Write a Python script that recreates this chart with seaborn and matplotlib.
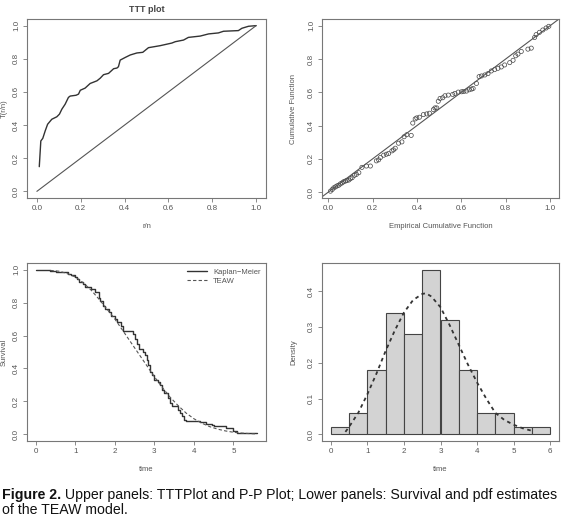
import numpy as np
import pandas as pd
import matplotlib
matplotlib.use("Agg")
import matplotlib.pyplot as plt
import seaborn as sns

# TTT plot (r/n, scaled TTT)
ttt_x = [0.011, 0.018, 0.027, 0.038, 0.049, 0.068, 0.091, 0.103, 0.114, 0.129, 0.144, 0.152,
         0.179, 0.19, 0.198, 0.22, 0.243, 0.274, 0.289, 0.304, 0.327, 0.35, 0.365, 0.372,
         0.38, 0.403, 0.426, 0.456, 0.483, 0.509, 0.562, 0.616, 0.631, 0.669, 0.691, 0.745,
         0.783, 0.828, 0.851, 0.919, 0.935, 0.965, 1.0]
ttt_y = [0.149, 0.304, 0.32, 0.365, 0.405, 0.435, 0.45, 0.466, 0.496, 0.526, 0.567, 0.575,
         0.58, 0.587, 0.61, 0.623, 0.651, 0.667, 0.683, 0.704, 0.712, 0.74, 0.744, 0.752,
         0.792, 0.808, 0.823, 0.835, 0.839, 0.867, 0.879, 0.895, 0.903, 0.913, 0.929, 0.937,
         0.95, 0.956, 0.966, 0.97, 0.984, 0.996, 1.0]
diag = [0.0, 1.0]

# P-P plot
pp_emp = [0.010, 0.018, 0.025, 0.033, 0.040, 0.048, 0.055, 0.063, 0.070, 0.078, 0.085, 0.093,
          0.100, 0.108, 0.118, 0.127, 0.138, 0.152, 0.172, 0.190, 0.217, 0.227, 0.235, 0.250,
          0.262, 0.272, 0.287, 0.294, 0.302, 0.317, 0.332, 0.342, 0.354, 0.374, 0.381, 0.392,
          0.399, 0.411, 0.429, 0.444, 0.456, 0.474, 0.481, 0.489, 0.496, 0.504, 0.516, 0.526,
          0.541, 0.561, 0.571, 0.586, 0.601, 0.611, 0.623, 0.635, 0.646, 0.653, 0.668, 0.680,
          0.691, 0.706, 0.720, 0.735, 0.750, 0.765, 0.780, 0.795, 0.818, 0.833, 0.845, 0.855,
          0.870, 0.900, 0.915, 0.930, 0.937, 0.952, 0.967, 0.982, 0.994]
pp_fit = [0.006, 0.016, 0.026, 0.032, 0.038, 0.042, 0.050, 0.056, 0.063, 0.067, 0.071, 0.073,
          0.081, 0.087, 0.101, 0.107, 0.117, 0.149, 0.157, 0.157, 0.188, 0.194, 0.208, 0.222,
          0.228, 0.232, 0.248, 0.254, 0.264, 0.294, 0.302, 0.333, 0.345, 0.341, 0.415, 0.440,
          0.446, 0.450, 0.466, 0.470, 0.474, 0.496, 0.506, 0.506, 0.546, 0.563, 0.567, 0.579,
          0.583, 0.587, 0.593, 0.601, 0.603, 0.605, 0.607, 0.615, 0.619, 0.623, 0.653, 0.694,
          0.698, 0.704, 0.712, 0.728, 0.736, 0.744, 0.752, 0.764, 0.778, 0.792, 0.819, 0.829,
          0.845, 0.859, 0.865, 0.929, 0.946, 0.960, 0.974, 0.986, 0.996]

# Kaplan-Meier survival
km_t = [0.0, 0.37, 0.5, 0.82, 0.9, 1.0, 1.05, 1.1, 1.2, 1.25, 1.4, 1.5, 1.6, 1.62, 1.7, 1.75,
        1.85, 1.9, 2.0, 2.05, 2.15, 2.2, 2.35, 2.45, 2.5, 2.55, 2.62, 2.7, 2.75, 2.8, 2.85,
        2.9, 2.95, 3.0, 3.1, 3.15, 3.2, 3.25, 3.35, 3.4, 3.45, 3.6, 3.65, 3.7, 3.75, 3.8, 4.15,
        4.3, 4.45, 4.5, 4.8, 5.0, 5.1, 5.6]
km_s = [1.0, 0.99, 0.985, 0.975, 0.965, 0.955, 0.94, 0.925, 0.91, 0.895, 0.88, 0.865, 0.83,
        0.81, 0.78, 0.76, 0.74, 0.72, 0.70, 0.68, 0.66, 0.63, 0.63, 0.61, 0.58, 0.55, 0.52,
        0.50, 0.48, 0.45, 0.42, 0.38, 0.36, 0.33, 0.32, 0.30, 0.27, 0.25, 0.22, 0.19, 0.17,
        0.15, 0.13, 0.11, 0.085, 0.08, 0.075, 0.065, 0.055, 0.05, 0.04, 0.02, 0.01, 0.01]
# TEAW fitted survival
teaw_t = [0.37, 0.6, 0.8, 1.0, 1.2, 1.4, 1.6, 1.8, 2.0, 2.2, 2.4, 2.6, 2.8, 3.0, 3.2, 3.4,
          3.6, 3.8, 4.0, 4.2, 4.4, 4.6, 4.8, 5.0, 5.2, 5.4, 5.6]
teaw_s = [0.995, 0.99, 0.975, 0.955, 0.92, 0.875, 0.82, 0.76, 0.70, 0.63, 0.56, 0.49, 0.42,
          0.35, 0.285, 0.225, 0.175, 0.13, 0.095, 0.068, 0.047, 0.032, 0.021, 0.013, 0.008,
          0.005, 0.003]

# histogram (density) and fitted pdf
bin_edges = [0, 0.5, 1, 1.5, 2, 2.5, 3, 3.5, 4, 4.5, 5, 5.5, 6]
dens = [0.02, 0.06, 0.18, 0.34, 0.28, 0.46, 0.32, 0.18, 0.06, 0.06, 0.02, 0.02]
pdf_t = [0.4, 0.5, 0.75, 1.0, 1.25, 1.5, 1.75, 2.0, 2.25, 2.5, 2.6, 2.75, 3.0, 3.25, 3.5,
         3.75, 4.0, 4.25, 4.5, 4.75, 5.0, 5.25, 5.5]
pdf_f = [0.007, 0.021, 0.06, 0.112, 0.17, 0.233, 0.29, 0.34, 0.375, 0.392, 0.394, 0.385,
         0.355, 0.305, 0.25, 0.195, 0.145, 0.1, 0.06, 0.04, 0.027, 0.017, 0.01]

sns.set_style("white")
plt.rcParams["font.family"] = ["Liberation Sans", "DejaVu Sans"]

W, H = 567, 516
fig = plt.figure(figsize=(W / 100, H / 100), dpi=100)

def box(x0, y0, x1, y1):
    return [x0 / W, 1 - y1 / H, (x1 - x0) / W, (y1 - y0) / H]

ax1 = fig.add_axes(box(27, 19, 266, 198))
ax2 = fig.add_axes(box(322, 19, 559, 198))
ax3 = fig.add_axes(box(27, 263, 266, 441))
ax4 = fig.add_axes(box(322, 263, 559, 441))

ink = "#333333"
lab = "#555555"

def rstyle(ax):
    for s in ax.spines.values():
        s.set_color("#777777")
        s.set_linewidth(0.8)
    ax.tick_params(axis="both", direction="out", length=3, width=0.6, color="#777777",
                   labelsize=5.8, labelcolor=lab, pad=2, bottom=True, left=True)
    for t in ax.get_yticklabels():
        t.set_rotation(90)
        t.set_va("center")
    ax.xaxis.label.set_size(5.5)
    ax.yaxis.label.set_size(5.5)
    ax.xaxis.label.set_color(lab)
    ax.yaxis.label.set_color(lab)

# TTT plot
sns.lineplot(x=ttt_x, y=ttt_y, ax=ax1, color=ink, lw=1.0, estimator=None, sort=False)
sns.lineplot(x=diag, y=diag, ax=ax1, color="#555555", lw=0.8, estimator=None)
ax1.set_xlim(-0.045, 1.045)
ax1.set_ylim(-0.04, 1.04)
ax1.set_xticks(np.arange(0, 1.01, 0.2))
ax1.set_yticks(np.arange(0, 1.01, 0.2))
ax1.set_xlabel("r/n", labelpad=8)
ax1.set_ylabel("T(r/n)", labelpad=4)
ax1.set_title("TTT plot", fontsize=6.5, fontweight="bold", color="#444444", pad=5)
rstyle(ax1)

# P-P plot
sns.lineplot(x=[-0.1, 1.1], y=[-0.1, 1.1], ax=ax2, color="#555555", lw=0.8, estimator=None)
sns.scatterplot(x=pp_emp, y=pp_fit, ax=ax2, marker="o", s=9, facecolor="none",
                edgecolor="#444444", linewidth=0.5)
ax2.set_xlim(-0.028, 1.04)
ax2.set_ylim(-0.035, 1.04)
ax2.set_xticks(np.arange(0, 1.01, 0.2))
ax2.set_yticks(np.arange(0, 1.01, 0.2))
ax2.set_xlabel("Empirical Cumulative Function", labelpad=8)
ax2.set_ylabel("Cumulative Function", labelpad=8)
rstyle(ax2)

# survival
sns.lineplot(x=km_t, y=km_s, ax=ax3, color=ink, lw=1.0, estimator=None,
             drawstyle="steps-post", label="Kaplan\u2212Meier")
sns.lineplot(x=teaw_t, y=teaw_s, ax=ax3, color="#555555", lw=0.8, estimator=None,
             linestyle=(0, (3, 2)), label="TEAW")
ax3.set_xlim(-0.224, 5.824)
ax3.set_ylim(-0.04, 1.04)
ax3.set_xticks(range(0, 6))
ax3.set_yticks(np.arange(0, 1.01, 0.2))
ax3.set_xlabel("time", labelpad=8)
ax3.set_ylabel("Survival", labelpad=4)
leg = ax3.legend(loc="upper right", frameon=False, fontsize=5.5, handlelength=2.6,
                 borderaxespad=0.3, labelspacing=0.2)
for t in leg.get_texts():
    t.set_color(lab)
rstyle(ax3)

# histogram + pdf
centers = [(bin_edges[i] + bin_edges[i + 1]) / 2 for i in range(len(dens))]
sns.histplot(x=centers, weights=dens, bins=bin_edges, stat="density", ax=ax4,
             color="#d3d3d3", edgecolor="#444444", linewidth=0.8, alpha=1)
sns.lineplot(x=pdf_t, y=pdf_f, ax=ax4, color="#333333", lw=1.3, estimator=None,
             linestyle=(0, (2, 2)))
ax4.set_xlim(-0.24, 6.24)
ax4.set_ylim(-0.0184, 0.4784)
ax4.set_xticks(range(0, 7))
ax4.set_yticks(np.arange(0, 0.41, 0.1))
ax4.set_yticklabels(["0.0", "0.1", "0.2", "0.3", "0.4"])
ax4.set_xlabel("time", labelpad=8)
ax4.set_ylabel("Density", labelpad=8)
rstyle(ax4)

# caption
cy = 1 - 499 / H
t1 = fig.text(0.003, cy, "Figure 2.", fontsize=10.2, fontweight="bold", color="#111111",
              va="baseline")
fig.canvas.draw()
x_after = t1.get_window_extent().x1 / W
fig.text(x_after, cy,
         " Upper panels: TTTPlot and P-P Plot; Lower panels: Survival and pdf estimates",
         fontsize=10.2, color="#111111", va="baseline")
fig.text(0.003, 1 - 513.5 / H, "of the TEAW model.", fontsize=10.2, color="#111111",
         va="baseline")

fig.savefig("out.png", dpi=100)
